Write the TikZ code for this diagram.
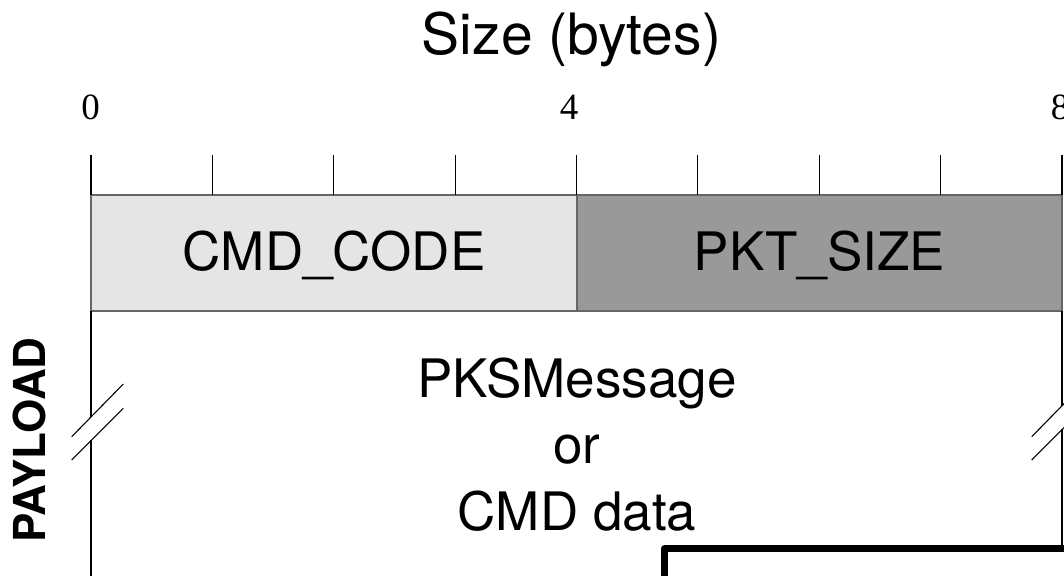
\documentclass[tikz,border=0pt]{standalone}
\usepackage{fontspec}
\setmainfont{TeX Gyre Heros}
\newfontfamily\numfont{Liberation Serif}
\definecolor{cellLight}{HTML}{E5E5E5}
\definecolor{cellDark}{HTML}{999999}
\begin{document}
\begin{tikzpicture}[x=1pt, y=-1pt,
  cell/.style={draw=black!60, line width=1.4pt, inner sep=0pt, outer sep=0pt, anchor=north west},
  lbl/.style={inner sep=0pt, anchor=base, font=\fontsize{53}{63}\selectfont},
  num/.style={inner sep=0pt, anchor=base, font=\numfont\fontsize{37}{44}\selectfont},
  tick/.style={line width=1.2pt},
  rail/.style={line width=1.4pt},
  brk/.style={line width=1.1pt},
  frame/.style={line width=7.5pt, line join=round}
]
\useasboundingbox (0,0) rectangle (1064,575);
\clip (0,0) rectangle (1064,575);

% axis title and byte numbers
\node[inner sep=0pt, anchor=base, font=\fontsize{57}{67}\selectfont] (title) at (571.5,55) {Size (bytes)};
\node[num] (n0) at (90.5,119) {0};
\node[num] (n4) at (569,119) {4};
\node[num] (n8) at (1060,119) {8};

% header fields
\node[cell, fill=cellLight, minimum width=486pt, minimum height=116pt] (cmd) at (91,195) {};
\node[cell, fill=cellDark, minimum width=485pt, minimum height=116pt] (pkt) at (577,195) {};
\node[lbl] (cmdtxt) at (334,270) {CMD\_CODE};
\node[lbl] (pkttxt) at (819.5,270) {PKT\_SIZE};

% byte ticks
\foreach \i in {0,...,8}{
  \coordinate (t\i) at ({91+\i*121.375},155);
  \draw[tick] (t\i) -- ++(0,40);
}

% payload side rails with break marks
\coordinate (la) at (91,311);
\coordinate (lb) at (91,417);
\coordinate (lc) at (91,440);
\coordinate (ld) at (91,580);
\coordinate (ra) at (1062,311);
\coordinate (rb) at (1062,405.7);
\coordinate (rc) at (1062,429);
\coordinate (rd) at (1062,546);
\draw[rail] (la) -- (lb);
\draw[rail] (lc) -- (ld);
\draw[rail] (ra) -- (rb);
\draw[rail] (rc) -- (rd);
\draw[brk] (71.7,436.7) -- (123.3,384);
\draw[brk] (71.7,460) -- (123.3,408.3);
\draw[brk] (1031.7,436.7) -- (1083.3,384);
\draw[brk] (1031.7,460) -- (1083.3,408.3);

% payload text
\node[lbl] (p1) at (577,397) {PKSMessage};
\node[lbl] (p2) at (577,463) {or};
\node[lbl] (p3) at (577,530) {CMD data};
\node[inner sep=0pt, anchor=base, rotate=90, font=\bfseries\fontsize{44}{52}\selectfont] (payload) at (45.5,440) {PAYLOAD};

% thick frame entering from below
\coordinate (f0) at (664.5,585);
\coordinate (f1) at (664.5,548.7);
\coordinate (f2) at (1075,548.7);
\draw[frame] (f0) -- (f1) -- (f2);
\end{tikzpicture}
\end{document}
